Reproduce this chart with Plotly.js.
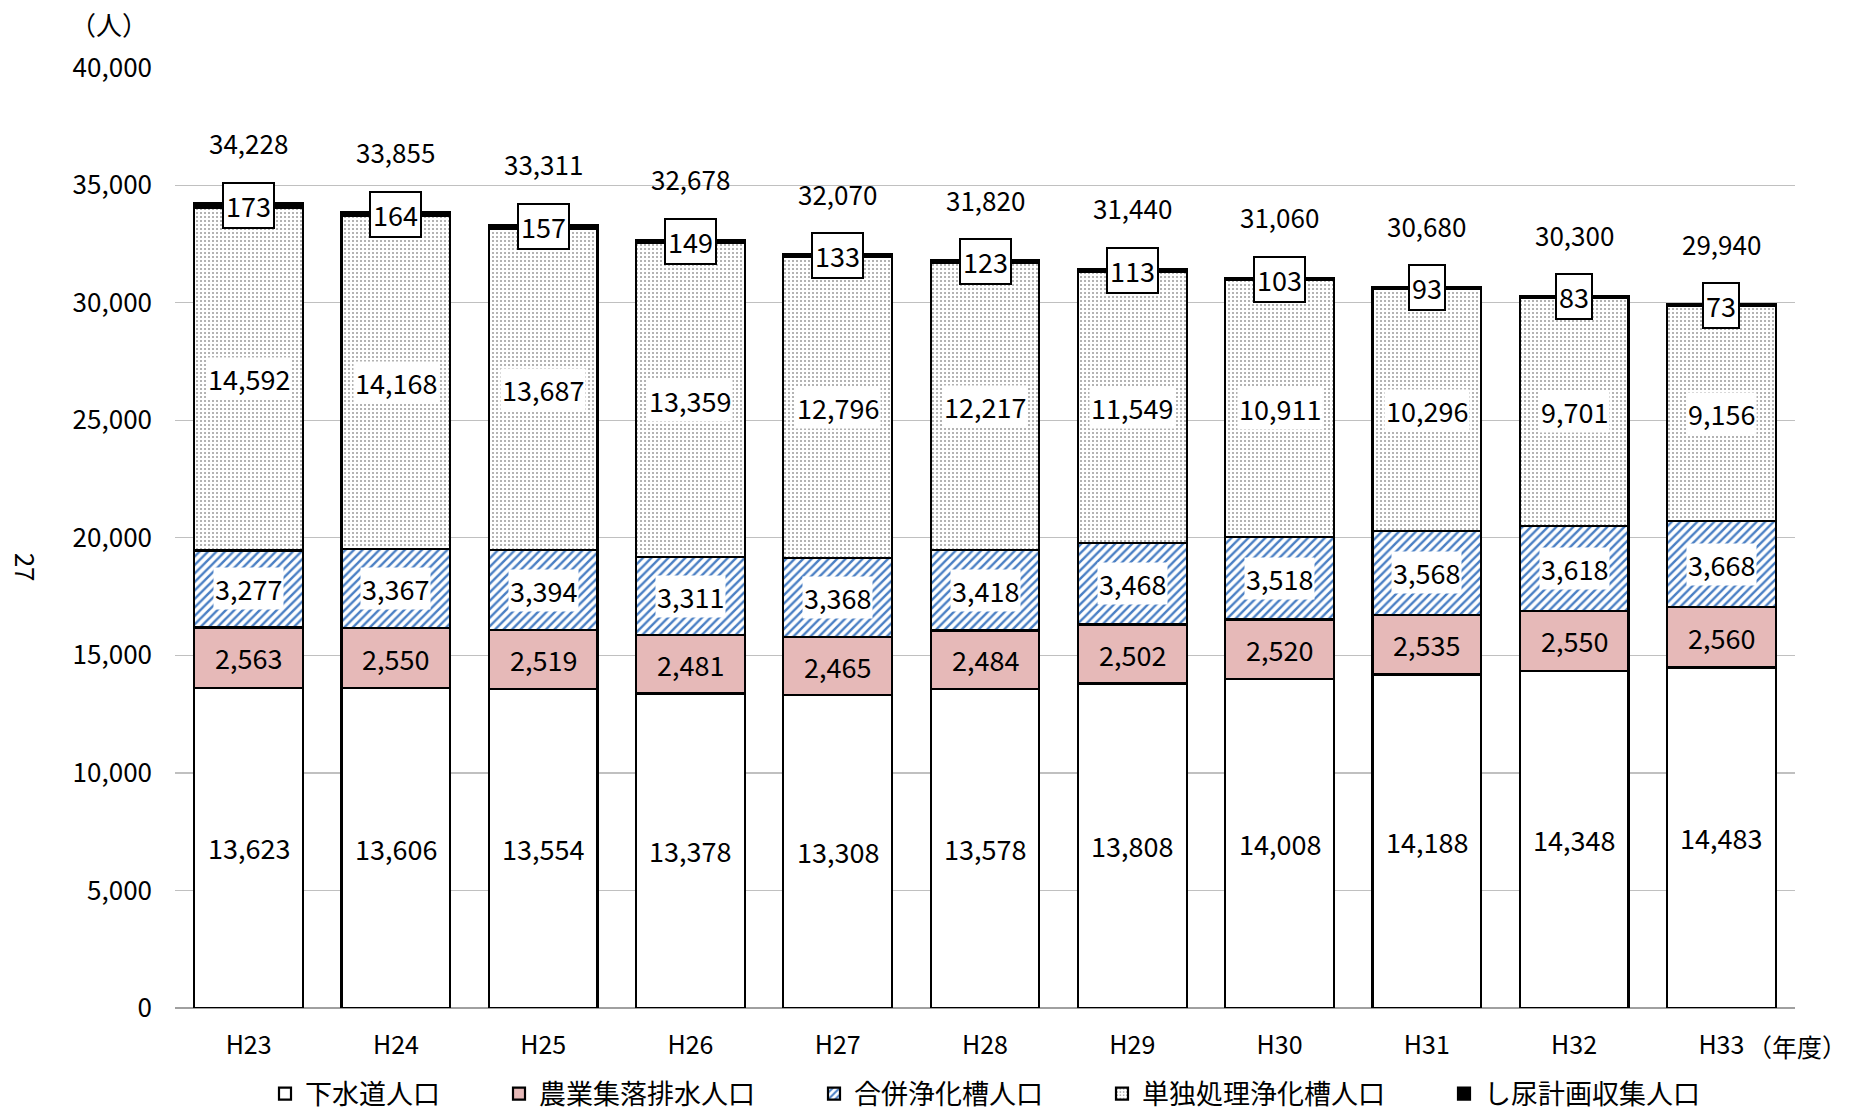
<!DOCTYPE html>
<html><head><meta charset="utf-8">
<script src="https://cdn.plot.ly/plotly-3.0.1.min.js"></script>
<style>html,body{margin:0;padding:0;background:#fff;}#chart{width:1849px;height:1113px;}</style>
</head><body><div id="chart"></div>
<script>
const categories = ['H23','H24','H25','H26','H27','H28','H29','H30','H31','H32','H33'];
const sewer      = [13623,13606,13554,13378,13308,13578,13808,14008,14188,14348,14483];
const agri       = [2563,2550,2519,2481,2465,2484,2502,2520,2535,2550,2560];
const combined   = [3277,3367,3394,3311,3368,3418,3468,3518,3568,3618,3668];
const single     = [14592,14168,13687,13359,12796,12217,11549,10911,10296,9701,9156];
const nightsoil  = [173,164,157,149,133,123,113,103,93,83,73];
const totals     = [34228,33855,33311,32678,32070,31820,31440,31060,30680,30300,29940];
const seriesNames = ['下水道人口','農業集落排水人口','合併浄化槽人口','単独処理浄化槽人口','し尿計画収集人口'];

const FONT = '"Noto Sans CJK JP", "Noto Sans", sans-serif';
const lineSpec = {color:'#000', width:2.2};
const GAP = '\u3000\u3000';

const traces = [
  {name:seriesNames[0] + GAP, y:sewer, marker:{color:'#ffffff', line:lineSpec}},
  {name:seriesNames[1] + GAP, y:agri, marker:{color:'#e6b9b8', line:lineSpec}},
  {name:seriesNames[2] + GAP, y:combined, marker:{color:'#ffffff', line:lineSpec,
     pattern:{shape:'/', fgcolor:'#4a7fc4', bgcolor:'#ffffff', size:6, solidity:0.4}}},
  {name:seriesNames[3] + GAP, y:single, marker:{color:'#ffffff', line:lineSpec,
     pattern:{shape:'.', fgcolor:'#9a9a9a', bgcolor:'#ffffff', size:4, solidity:0.2}}},
  {name:seriesNames[4], y:nightsoil, marker:{color:'#000000', line:lineSpec}}
].map(t => Object.assign({type:'bar', x:categories, hoverinfo:'skip'}, t));

const annotations = [];
const segs = [sewer, agri, combined, single];
const bgs = [null, null, '#ffffff', '#ffffff'];
categories.forEach((c, i) => {
  let base = 0;
  segs.forEach((s, k) => {
    const a = {x:c, y:base + s[i]/2, xref:'x', yref:'y', text:s[i].toLocaleString('en-US'),
      showarrow:false, font:{family:FONT, size:27, color:'#000'}};
    if (bgs[k]) { a.bgcolor = bgs[k]; a.borderpad = 1; }
    annotations.push(a);
    base += s[i];
  });
  annotations.push({x:c, y:base + nightsoil[i]/2, xref:'x', yref:'y', text:String(nightsoil[i]),
    showarrow:false, bgcolor:'#fff', bordercolor:'#000', borderwidth:2, borderpad:2,
    font:{family:FONT, size:27, color:'#000'}});
  annotations.push({x:c, y:totals[i], xref:'x', yref:'y', yshift:61, text:totals[i].toLocaleString('en-US'),
    showarrow:false, font:{family:FONT, size:26, color:'#000'}});
});
annotations.push({xref:'paper', yref:'paper', x:-0.041, y:1.046, xanchor:'center', yanchor:'middle',
  text:'（人）', showarrow:false, font:{family:FONT, size:26, color:'#000'}});
annotations.push({xref:'paper', yref:'paper', x:1.001, y:-0.040, xanchor:'center', yanchor:'middle',
  text:'（年度）', showarrow:false, font:{family:FONT, size:25, color:'#000'}});
annotations.push({xref:'paper', yref:'paper', x:-0.092, y:0.468, xanchor:'center', yanchor:'middle',
  text:'27', textangle:90, showarrow:false, font:{family:FONT, size:26, color:'#000'}});

const layout = {
  width:1849, height:1113,
  margin:{l:175, r:54, t:67, b:105, autoexpand:false},
  paper_bgcolor:'#fff', plot_bgcolor:'#fff',
  barmode:'stack', bargap:0.262,
  font:{family:FONT, size:25, color:'#000'},
  showlegend:true,
  legend:{orientation:'h', x:0.5, xanchor:'center', xref:'paper', y:0.017, yref:'container', yanchor:'middle',
    font:{family:FONT, size:27, color:'#000'}, traceorder:'normal', itemwidth:30, tracegroupgap:0},
  xaxis:{type:'category', range:[-0.5,10.5], showgrid:false, ticks:'', ticklabelstandoff:20,
    tickfont:{family:FONT, size:25}, showline:false, zeroline:false},
  yaxis:{range:[0,40030], tickvals:[0,5000,10000,15000,20000,25000,30000,35000,40000], tickformat:',d',
    showgrid:true, gridcolor:'#c0c0c0', gridwidth:1.3,
    zeroline:true, zerolinecolor:'#a0a0a0', zerolinewidth:1.5, ticks:'', ticklabelstandoff:22,
    tickfont:{family:FONT, size:26}, fixedrange:true},
  annotations:annotations
};
Plotly.newPlot('chart', traces, layout, {displayModeBar:false, staticPlot:true});
</script></body></html>
